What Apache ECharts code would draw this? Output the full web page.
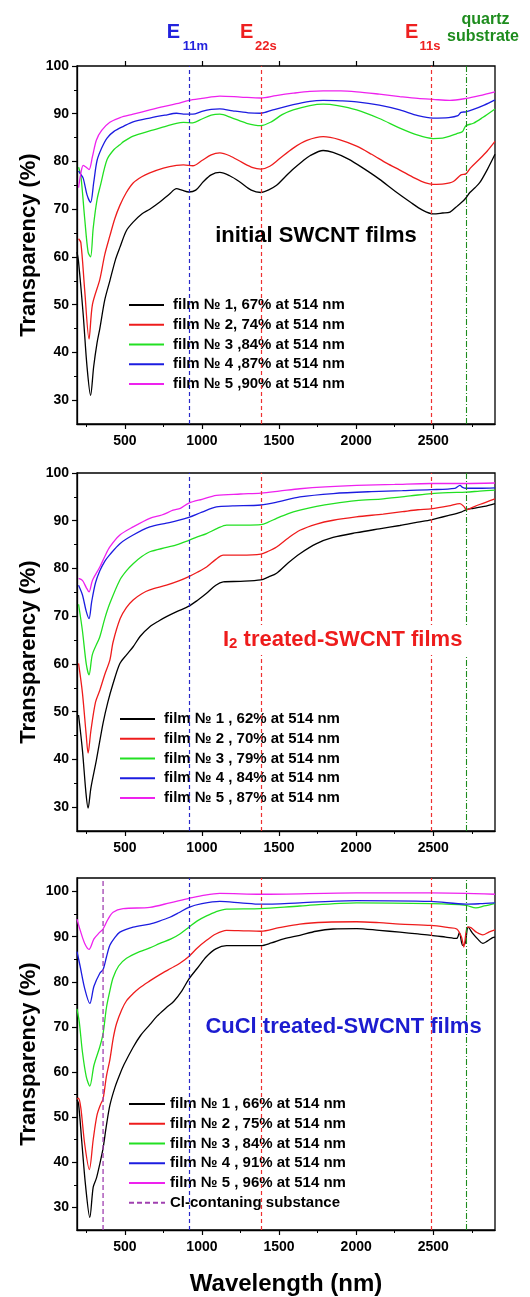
<!DOCTYPE html>
<html>
<head>
<meta charset="utf-8">
<script src="https://cdn.jsdelivr.net/npm/echarts@6.0.0/dist/echarts.min.js"></script>
<style>
  html, body { margin: 0; padding: 0; background: #fff; }
  #chart { width: 530px; height: 1297px; }
</style>
</head>
<body>
<div id="chart"></div>
<script>
// ---- data: [wavelength nm, transparency %] ----
// initial films
var init1 = [[190,61],[200,59],[230,48],[255,37],[278,31],[298,37],[320,42],[338,45],[370,51],[403,55],[440,59.5],[468,62],[510,65.5],[554,67.3],[610,69],[662,70],[727,71.5],[790,73.2],[835,74.3],[870,74],[915,73.6],[960,74],[1010,75.8],[1060,77.2],[1116,77.7],[1180,77],[1246,75.7],[1320,74],[1382,73.5],[1430,74],[1484,75],[1540,76.8],[1592,78.4],[1650,80],[1700,81.2],[1786,82.3],[1850,81.9],[1950,80.5],[2050,78.5],[2150,76.3],[2250,73.8],[2350,71.5],[2430,69.8],[2500,69],[2560,69.2],[2608,69.4],[2660,70.8],[2693,71.7],[2715,72.5],[2737,73.5],[2770,74.5],[2802,75.6],[2850,78.3],[2900,81.5]];
var init2 = [[200,63.8],[215,63],[240,53],[268,42.8],[290,50],[338,55.3],[370,60.5],[403,64.4],[435,68],[468,70.8],[510,73.5],[554,75.5],[610,76.8],[662,77.6],[750,78.6],[835,79.2],[880,79.3],[941,79.1],[1000,80.2],[1060,81.4],[1116,81.8],[1180,81.2],[1260,79.8],[1330,78.7],[1382,78.4],[1440,79],[1500,80.5],[1592,82.8],[1680,84.4],[1786,85.2],[1890,84.6],[2003,83.2],[2100,81.5],[2200,79.6],[2283,78.2],[2380,76.5],[2450,75.5],[2498,75.2],[2570,75.3],[2630,75.8],[2680,77.2],[2711,77.4],[2740,78.6],[2800,80.5],[2850,82.2],[2900,84.2]];
var init3 = [[200,78.8],[215,77],[240,68],[262,61],[278,60],[295,66],[320,72],[342,75],[385,80.4],[430,82.5],[468,83.5],[494,84.2],[554,85.3],[662,86.4],[760,87.3],[835,88],[880,88.2],[941,88.1],[1000,88.9],[1060,89.7],[1116,89.9],[1190,89.2],[1290,88],[1382,87.5],[1450,88.3],[1520,89.8],[1592,90.8],[1700,91.7],[1786,92],[1880,91.7],[2003,90.8],[2150,89],[2283,87],[2400,85.5],[2498,84.8],[2560,84.9],[2608,85.3],[2650,85.8],[2690,86.3],[2711,87.5],[2760,88],[2820,89.2],[2900,91]];
var init4 = [[200,78],[212,77.4],[230,76.5],[255,73],[278,71.4],[298,75.5],[320,80.2],[350,82.8],[385,84.9],[430,86.3],[494,87.4],[554,88.3],[662,89.1],[760,89.7],[835,90.1],[880,89.9],[941,89.9],[1000,90.5],[1060,90.9],[1116,91],[1200,90.6],[1300,90.2],[1382,90.1],[1460,90.8],[1592,91.9],[1700,92.6],[1786,92.8],[1900,92.7],[2003,92.5],[2150,91.8],[2283,90.8],[2400,89.6],[2498,89.1],[2600,89.2],[2660,89.6],[2680,90.3],[2711,90.4],[2760,90.9],[2830,91.8],[2900,92.9]];
var init5 = [[200,74.5],[215,77.5],[230,79.2],[250,78.8],[268,78.3],[290,81],[316,84.5],[350,86.5],[403,88.2],[470,89.2],[554,89.9],[662,90.8],[750,91.5],[835,92.1],[915,92.8],[1000,93.2],[1116,93.7],[1250,93.5],[1382,93.3],[1480,93.8],[1592,94.3],[1700,94.7],[1786,94.8],[1900,94.8],[2003,94.6],[2150,94.1],[2283,93.6],[2400,93.2],[2498,93],[2608,92.8],[2711,93.2],[2800,93.8],[2900,94.6]];
// I2 treated films
var iod1 = [[200,49.3],[225,42],[248,33],[262,29.8],[280,34],[316,39.9],[359,47.6],[390,52],[424,55.9],[468,60.1],[511,61.9],[554,63.6],[600,65.8],[662,67.8],[720,69],[770,69.9],[840,71],[915,72.1],[970,73.3],[1030,74.8],[1090,76.5],[1138,77.2],[1250,77.3],[1382,77.6],[1430,78.2],[1484,79],[1560,81.2],[1635,83.1],[1743,85.2],[1850,86.5],[2003,87.5],[2150,88.3],[2283,89],[2400,89.7],[2486,90.2],[2600,91.1],[2680,91.8],[2711,92.3],[2760,92.6],[2830,93],[2900,93.6]];
var iod2 = [[200,60.1],[225,54],[250,45],[262,41.3],[280,46],[310,52],[338,54.5],[370,57.8],[403,60.8],[424,64.6],[470,69.5],[510,71.8],[554,73.4],[610,74.7],[662,75.5],[770,76.5],[850,77.4],[915,78.3],[970,79.2],[1030,80.3],[1090,81.9],[1138,82.8],[1250,82.8],[1382,83],[1430,83.6],[1484,84.5],[1560,86.4],[1635,88],[1743,89.3],[1851,90.1],[2000,90.8],[2175,91.4],[2300,91.9],[2400,92.3],[2486,92.5],[2600,93.1],[2673,93.6],[2700,92.9],[2715,92.3],[2740,92.6],[2800,93.4],[2900,94.6]];
var iod3 = [[200,72.5],[225,67],[250,60],[268,57.7],[290,62],[338,65.7],[370,69.5],[403,72.7],[468,77.6],[510,79.5],[554,81],[610,82.5],[662,83.5],[770,84.4],[840,85],[915,85.9],[970,86.6],[1030,87.3],[1100,88.4],[1160,89.1],[1280,89.1],[1382,89.2],[1430,89.7],[1484,90.5],[1560,91.5],[1635,92.2],[1743,93],[1851,93.6],[2000,94.2],[2175,94.6],[2350,95.2],[2486,95.7],[2600,95.9],[2711,96],[2800,96.2],[2900,96.4]];
var iod4 = [[200,76.5],[225,74.5],[250,71],[268,69.5],[285,73],[310,77],[338,79.5],[370,81.5],[403,82.9],[468,85.2],[554,87],[662,88.7],[770,89.5],[840,90],[915,90.7],[1000,91.8],[1094,92.9],[1200,93.1],[1382,93.3],[1500,94],[1635,95],[1851,95.7],[2100,96.1],[2300,96.3],[2486,96.5],[2640,96.8],[2673,97.4],[2690,97],[2711,96.8],[2800,96.8],[2900,96.9]];
var iod5 = [[200,77.9],[225,77.5],[250,76],[268,75.1],[290,77.5],[338,80.3],[370,82.5],[403,84.5],[468,87],[554,88.7],[662,90.5],[740,91.2],[813,92.2],[860,92.6],[915,93.7],[1000,94.5],[1094,95.3],[1250,95.6],[1382,95.8],[1500,96.2],[1635,96.7],[1800,97.1],[2003,97.4],[2250,97.6],[2486,97.8],[2700,97.8],[2900,97.9]];
// CuCl treated films
var cu1 = [[190,53.8],[200,53],[220,45],[245,35],[273,27.8],[295,34.5],[316,36.5],[340,40],[359,43.1],[380,48],[403,52.6],[435,56.5],[468,59.5],[494,61.6],[554,65.5],[602,68.1],[662,70.5],[709,72.4],[770,74.3],[818,75.7],[870,78],[915,80.6],[970,83],[1030,85.6],[1090,87.3],[1160,88],[1250,88],[1382,88],[1450,88.6],[1530,89.5],[1635,90.3],[1740,91.2],[1851,91.7],[2003,91.8],[2150,91.4],[2283,91],[2400,90.6],[2486,90.3],[2580,89.9],[2651,89.6],[2669,90.9],[2690,88.1],[2707,88.6],[2726,92.1],[2758,90.6],[2790,89.4],[2821,88.5],[2850,89],[2885,89.8],[2900,89.9]];
var cu2 = [[190,54],[200,54.2],[215,52],[240,44],[270,38.4],[295,45],[320,50.5],[345,53],[359,54],[381,59.1],[403,62.7],[425,67.5],[446,70.7],[480,73.8],[511,75.8],[554,77.4],[597,78.7],[662,80.2],[727,81.6],[800,83],[857,84.1],[915,85.6],[970,87.5],[1030,89.2],[1090,90.6],[1160,91.4],[1270,91.3],[1382,91.2],[1500,92],[1635,92.8],[1800,93.2],[2003,93.3],[2150,93.1],[2283,92.8],[2486,92.5],[2600,92],[2652,91.7],[2683,89.9],[2698,87.7],[2720,92.1],[2736,92.1],[2779,91],[2821,90.4],[2860,91],[2900,91.5]];
var cu3 = [[190,74],[205,71],[225,64.5],[250,59],[273,56.9],[300,61.5],[338,65.6],[359,68.5],[381,74.3],[403,78],[424,80.9],[460,83.5],[511,85.2],[597,86.7],[662,87.5],[727,88.5],[800,89.5],[857,90.6],[915,92.1],[970,93.5],[1030,94.6],[1090,95.5],[1160,96.1],[1382,96.2],[1635,96.8],[2003,97.5],[2486,97.3],[2711,96.95],[2776,96.4],[2830,96.8],[2900,97.4]];
var cu4 = [[190,86.7],[210,83.5],[240,78.5],[273,75.2],[300,79],[338,81.9],[359,82.7],[381,85.5],[403,88.1],[435,89.8],[468,91],[554,92.1],[662,92.8],[720,93.4],[792,94.3],[850,95.3],[915,96.5],[1000,97.3],[1116,97.8],[1250,97.5],[1382,97.2],[1635,97.5],[2003,98],[2486,97.8],[2711,97.2],[2800,97.3],[2900,97.5]];
var cu5 = [[190,93.9],[210,91.5],[240,88.5],[268,87.2],[300,89.5],[338,91],[359,91.7],[390,93.8],[424,95.4],[489,96.2],[662,96.5],[792,97.5],[915,98.5],[1000,99.1],[1116,99.6],[1382,99.4],[2003,99.7],[2486,99.7],[2900,99.4]];
var clLine = [[359,25],[359,103]];

var names1 = ['film № 1, 67% at 514 nm','film № 2, 74% at 514 nm','film № 3 ,84% at 514 nm','film № 4 ,87% at 514 nm','film № 5 ,90% at 514 nm'];
var names2 = ['film № 1 , 62% at 514 nm','film № 2 , 70% at 514 nm','film № 3 , 79% at 514 nm','film № 4 , 84% at 514 nm','film № 5 , 87% at 514 nm'];
var names3 = ['film № 1 , 66% at 514 nm','film № 2 , 75% at 514 nm','film № 3 , 84% at 514 nm','film № 4 , 91% at 514 nm','film № 5 , 96% at 514 nm'];
var clName = 'Cl-contaning substance';

// reference wavelengths (nm): E11m, E22s, E11s, quartz substrate
var refLines = [915, 1382, 2486, 2711];

var xMajor = [500, 1000, 1500, 2000, 2500];
var xMinor = [250, 750, 1250, 1750, 2250, 2750];
var yMajor = [30, 40, 50, 60, 70, 80, 90, 100];
var yMinor = [35, 45, 55, 65, 75, 85, 95];

var colors = ['#000000', '#ee1c1c', '#22e022', '#1c1ce0', '#ee22ee'];
var FONT = 'Liberation Sans, Arial, sans-serif';

var gridTops = [66, 473, 878];
var yMax = [100, 100, 103];

var myChart = echarts.init(document.getElementById('chart'));

function plain(v) { return String(v); }

var grids = [], xAxes = [], yAxes = [];
for (var g = 0; g < 3; g++) {
    grids.push({ left: 77, width: 418, top: gridTops[g], height: 358, show: true, borderColor: '#000', borderWidth: 1.3 });
}
// main bottom axes
for (var g = 0; g < 3; g++) {
    xAxes.push({
        type: 'value', gridIndex: g, min: 190, max: 2900, position: 'bottom',
        axisLine: { show: true, onZero: false, lineStyle: { color: '#000', width: 1.3 } },
        axisTick: { show: true, customValues: xMajor, length: 5, lineStyle: { color: '#000', width: 1.2 } },
        axisLabel: { show: true, customValues: xMajor, formatter: plain, margin: 10, color: '#000', fontSize: 14, fontWeight: 'bold', fontFamily: FONT },
        splitLine: { show: false },
        name: g == 2 ? 'Wavelength (nm)' : '', nameLocation: 'middle', nameGap: 42, nameMoveOverlap: false,
        nameTextStyle: { color: '#000', fontSize: 24, fontWeight: 'bold', fontFamily: FONT }
    });
}
// minor bottom ticks
for (var g = 0; g < 3; g++) {
    xAxes.push({
        type: 'value', gridIndex: g, min: 190, max: 2900, position: 'bottom',
        axisLine: { show: false },
        axisTick: { show: true, customValues: xMinor, length: 3, lineStyle: { color: '#000', width: 1 } },
        axisLabel: { show: false }, splitLine: { show: false }
    });
}
// top ticks on the first panel
xAxes.push({
    type: 'value', gridIndex: 0, min: 190, max: 2900, position: 'top',
    axisLine: { show: false },
    axisTick: { show: true, customValues: xMajor, length: 5, lineStyle: { color: '#000', width: 1.2 } },
    axisLabel: { show: false }, splitLine: { show: false }
});
for (var g = 0; g < 3; g++) {
    yAxes.push({
        type: 'value', gridIndex: g, min: 25, max: yMax[g], position: 'left',
        axisLine: { show: true, onZero: false, lineStyle: { color: '#000', width: 1.3 } },
        axisTick: { show: true, customValues: yMajor, length: 5, lineStyle: { color: '#000', width: 1.2 } },
        axisLabel: { show: true, customValues: yMajor, formatter: plain, margin: 8, color: '#000', fontSize: 14, fontWeight: 'bold', fontFamily: FONT },
        splitLine: { show: false },
        name: 'Transparency (%)', nameLocation: 'middle', nameGap: 37, nameMoveOverlap: false,
        nameTextStyle: { color: '#000', fontSize: 22, fontWeight: 'bold', fontFamily: FONT }
    });
}
for (var g = 0; g < 3; g++) {
    yAxes.push({
        type: 'value', gridIndex: g, min: 25, max: yMax[g], position: 'left',
        axisLine: { show: false },
        axisTick: { show: true, customValues: yMinor, length: 3, lineStyle: { color: '#000', width: 1 } },
        axisLabel: { show: false }, splitLine: { show: false }
    });
}

var refMarkLine = {
    silent: true, symbol: ['none', 'none'], label: { show: false },
    data: [
        { xAxis: refLines[0], lineStyle: { color: '#2828c8', type: [4, 3], width: 1.2 } },
        { xAxis: refLines[1], lineStyle: { color: '#ee3030', type: [4, 3], width: 1.2 } },
        { xAxis: refLines[2], lineStyle: { color: '#ee3030', type: [4, 3], width: 1.2 } },
        { xAxis: refLines[3], lineStyle: { color: '#1e8c1e', type: [6, 2, 1, 2], width: 1.1 } }
    ]
};

var panels = [
    { data: [init1, init2, init3, init4, init5], names: names1 },
    { data: [iod1, iod2, iod3, iod4, iod5], names: names2 },
    { data: [cu1, cu2, cu3, cu4, cu5], names: names3 }
];
var series = [];
for (var p = 0; p < 3; p++) {
    for (var i = 0; i < 5; i++) {
        var s = {
            name: panels[p].names[i], type: 'line', xAxisIndex: p, yAxisIndex: p,
            data: panels[p].data[i], symbol: 'none', smooth: 0.3, silent: true,
            lineStyle: { color: colors[i], width: 1.3 }, itemStyle: { color: colors[i], opacity: 0 }
        };
        if (i == 0) s.markLine = refMarkLine;
        series.push(s);
    }
}
series.push({
    name: clName, type: 'line', xAxisIndex: 2, yAxisIndex: 2, data: clLine, symbol: 'none', silent: true,
    lineStyle: { color: '#a040b0', type: [5, 3], width: 1.3 }, itemStyle: { color: '#a040b0', opacity: 0 }
});

function legendFor(names, left, top, pad, textPad, itemW) {
    return {
        data: names, orient: 'vertical', left: left, top: top, padding: pad,
        backgroundColor: '#fff', itemWidth: itemW, itemHeight: 12, itemGap: 1.75,
        selectedMode: false, itemStyle: { opacity: 0 },
        textStyle: { color: '#000', fontSize: 15, fontWeight: 'bold', fontFamily: FONT, lineHeight: 18, padding: [0, 0, 0, textPad] }
    };
}

function label(txt, x, y, size, color, align) {
    return { type: 'text', z: 50, x: x, y: y, style: { text: txt, fill: color, font: 'bold ' + size + 'px ' + FONT, align: align || 'left', verticalAlign: 'middle' } };
}

var option = {
    animation: false,
    backgroundColor: '#fff',
    grid: grids,
    xAxis: xAxes,
    yAxis: yAxes,
    legend: [
        legendFor(names1, 122, 288, [8, 6, 4, 6], 4, 35),
        legendFor(names2, 113, 700, [10, 6, 5, 6], 4, 35),
        legendFor(names3.concat([clName]), 122, 1089, [6, 6, 6, 6], 0, 36)
    ],
    graphic: [
        label('E', 166.7, 32, 20, '#2222dd'),
        label('11m', 182.7, 46.5, 13, '#2222dd'),
        label('E', 240, 32, 20, '#ee2020'),
        label('22s', 255, 46.5, 13, '#ee2020'),
        label('E', 405, 32, 20, '#ee2020'),
        label('11s', 419.5, 46.5, 13, '#ee2020'),
        label('quartz', 485.5, 19.4, 16, '#1e8c1e', 'center'),
        label('substrate', 483, 37, 16, '#1e8c1e', 'center'),
        label('initial SWCNT films', 316, 236.3, 22, '#000', 'center'),
        {
            type: 'text', z: 50, x: 215, y: 625,
            style: {
                text: '{a|I}{b|2}{a| treated-SWCNT films}', fill: '#ee1c1c', verticalAlign: 'top',
                backgroundColor: '#fff', padding: [4, 8, 4, 8],
                rich: {
                    a: { fontSize: 22, fontWeight: 'bold', fontFamily: FONT, fill: '#ee1c1c', lineHeight: 22, padding: [0, 0, 6, 0], verticalAlign: 'top' },
                    b: { fontSize: 15, fontWeight: 'bold', fontFamily: FONT, fill: '#ee1c1c', lineHeight: 15, verticalAlign: 'bottom' }
                }
            }
        },
        label('CuCl treated-SWCNT films', 343.5, 1027.3, 22, '#1c1cd0', 'center')
    ],
    series: series
};

myChart.setOption(option);
</script>
</body>
</html>
